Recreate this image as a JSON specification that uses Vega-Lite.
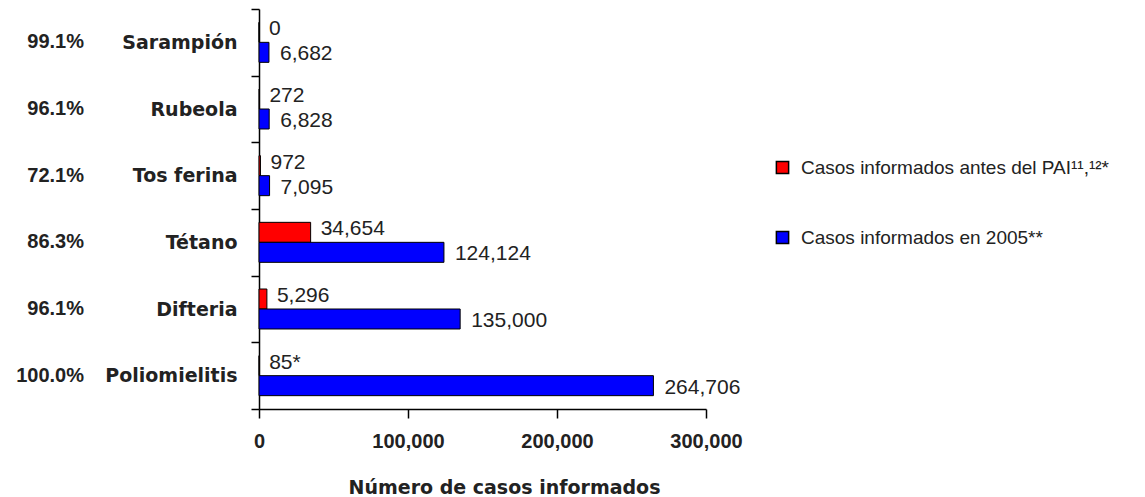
{
  "$schema": "https://vega.github.io/schema/vega-lite/v6.json",
  "padding": {"left": 0, "top": 0, "right": 0, "bottom": 0},
  "background": "white",
  "config": {"view": {"stroke": null}, "font": "Liberation Sans"},
  "datasets": {
    "bars": [
      {"category": "Sarampión", "series": "Casos informados antes del PAI¹¹,¹²*", "value": 0, "label": "0"},
      {"category": "Sarampión", "series": "Casos informados en 2005**", "value": 6682, "label": "6,682"},
      {"category": "Rubeola", "series": "Casos informados antes del PAI¹¹,¹²*", "value": 272, "label": "272"},
      {"category": "Rubeola", "series": "Casos informados en 2005**", "value": 6828, "label": "6,828"},
      {"category": "Tos ferina", "series": "Casos informados antes del PAI¹¹,¹²*", "value": 972, "label": "972"},
      {"category": "Tos ferina", "series": "Casos informados en 2005**", "value": 7095, "label": "7,095"},
      {"category": "Tétano", "series": "Casos informados antes del PAI¹¹,¹²*", "value": 34654, "label": "34,654"},
      {"category": "Tétano", "series": "Casos informados en 2005**", "value": 124124, "label": "124,124"},
      {"category": "Difteria", "series": "Casos informados antes del PAI¹¹,¹²*", "value": 5296, "label": "5,296"},
      {"category": "Difteria", "series": "Casos informados en 2005**", "value": 135000, "label": "135,000"},
      {"category": "Poliomielitis", "series": "Casos informados antes del PAI¹¹,¹²*", "value": 85, "label": "85*"},
      {"category": "Poliomielitis", "series": "Casos informados en 2005**", "value": 264706, "label": "264,706"}
    ],
    "coverage": [
      {"category": "Sarampión", "pct": "99.1%"},
      {"category": "Rubeola", "pct": "96.1%"},
      {"category": "Tos ferina", "pct": "72.1%"},
      {"category": "Tétano", "pct": "86.3%"},
      {"category": "Difteria", "pct": "96.1%"},
      {"category": "Poliomielitis", "pct": "100.0%"}
    ]
  },
  "spacing": 0,
  "hconcat": [
    {
      "width": 104,
      "height": 400,
      "data": {"name": "coverage"},
      "mark": {"type": "text", "align": "right", "baseline": "middle", "dx": 32, "font": "Liberation Sans", "fontWeight": "bold", "fontSize": 20, "color": "#222"},
      "encoding": {
        "y": {"field": "category", "type": "nominal", "sort": ["Sarampión", "Rubeola", "Tos ferina", "Tétano", "Difteria", "Poliomielitis"], "axis": null, "scale": {"paddingInner": 0, "paddingOuter": 0}},
        "text": {"field": "pct"}
      }
    },
    {
      "width": 447,
      "height": 400,
      "data": {"name": "bars"},
      "encoding": {
        "y": {
          "field": "category", "type": "nominal",
          "sort": ["Sarampión", "Rubeola", "Tos ferina", "Tétano", "Difteria", "Poliomielitis"],
          "scale": {"paddingInner": 0, "paddingOuter": 0},
          "axis": {"title": null, "tickBand": "extent", "tickSize": 8, "tickColor": "black", "tickWidth": 1.5, "domainColor": "black", "domainWidth": 1.5, "labelFont": "DejaVu Sans", "labelFontWeight": "bold", "labelFontSize": 19, "labelColor": "#222", "labelPadding": 14}
        },
        "yOffset": {
          "field": "series", "type": "nominal",
          "sort": ["Casos informados antes del PAI¹¹,¹²*", "Casos informados en 2005**"],
          "scale": {"paddingInner": 0, "paddingOuter": 0.667}
        },
        "x": {
          "field": "value", "type": "quantitative",
          "scale": {"domain": [0, 300000], "nice": false},
          "axis": {"values": [0, 100000, 200000, 300000], "format": ",d", "title": "Número de casos informados", "titleFont": "DejaVu Sans", "titleFontSize": 19, "titleFontWeight": "bold", "titleColor": "#222", "titlePadding": 27, "titleX": 245, "labelFont": "Liberation Sans", "labelFontWeight": "bold", "labelFontSize": 20, "labelColor": "#222", "labelPadding": 13, "labelFlush": false, "tickSize": 9, "tickColor": "black", "tickWidth": 1.5, "domainColor": "black", "domainWidth": 1.5, "grid": false}
        }
      },
      "layer": [
        {
          "mark": {"type": "bar", "stroke": "black", "strokeWidth": 1},
          "encoding": {
            "color": {
              "field": "series", "type": "nominal",
              "scale": {"domain": ["Casos informados antes del PAI¹¹,¹²*", "Casos informados en 2005**"], "range": ["#FF0000", "#0000FF"]},
              "legend": {"title": null, "orient": "none", "legendX": 773, "legendY": 149, "padding": 0, "symbolType": "square", "symbolSize": 150, "symbolStrokeColor": "black", "symbolStrokeWidth": 1.5, "labelFont": "Liberation Sans", "labelFontSize": 19, "labelColor": "#222", "labelLimit": 400, "labelOffset": 9, "rowPadding": 50}
            }
          }
        },
        {
          "transform": [{"filter": "datum.series === 'Casos informados antes del PAI¹¹,¹²*'"}],
          "mark": {"type": "text", "align": "left", "baseline": "middle", "dx": 10, "dy": -3, "font": "Liberation Sans", "fontSize": 21, "color": "#222"},
          "encoding": {"text": {"field": "label"}}
        },
        {
          "transform": [{"filter": "datum.series === 'Casos informados en 2005**'"}],
          "mark": {"type": "text", "align": "left", "baseline": "middle", "dx": 11, "dy": 2, "font": "Liberation Sans", "fontSize": 21, "color": "#222"},
          "encoding": {"text": {"field": "label"}}
        }
      ]
    }
  ]
}
